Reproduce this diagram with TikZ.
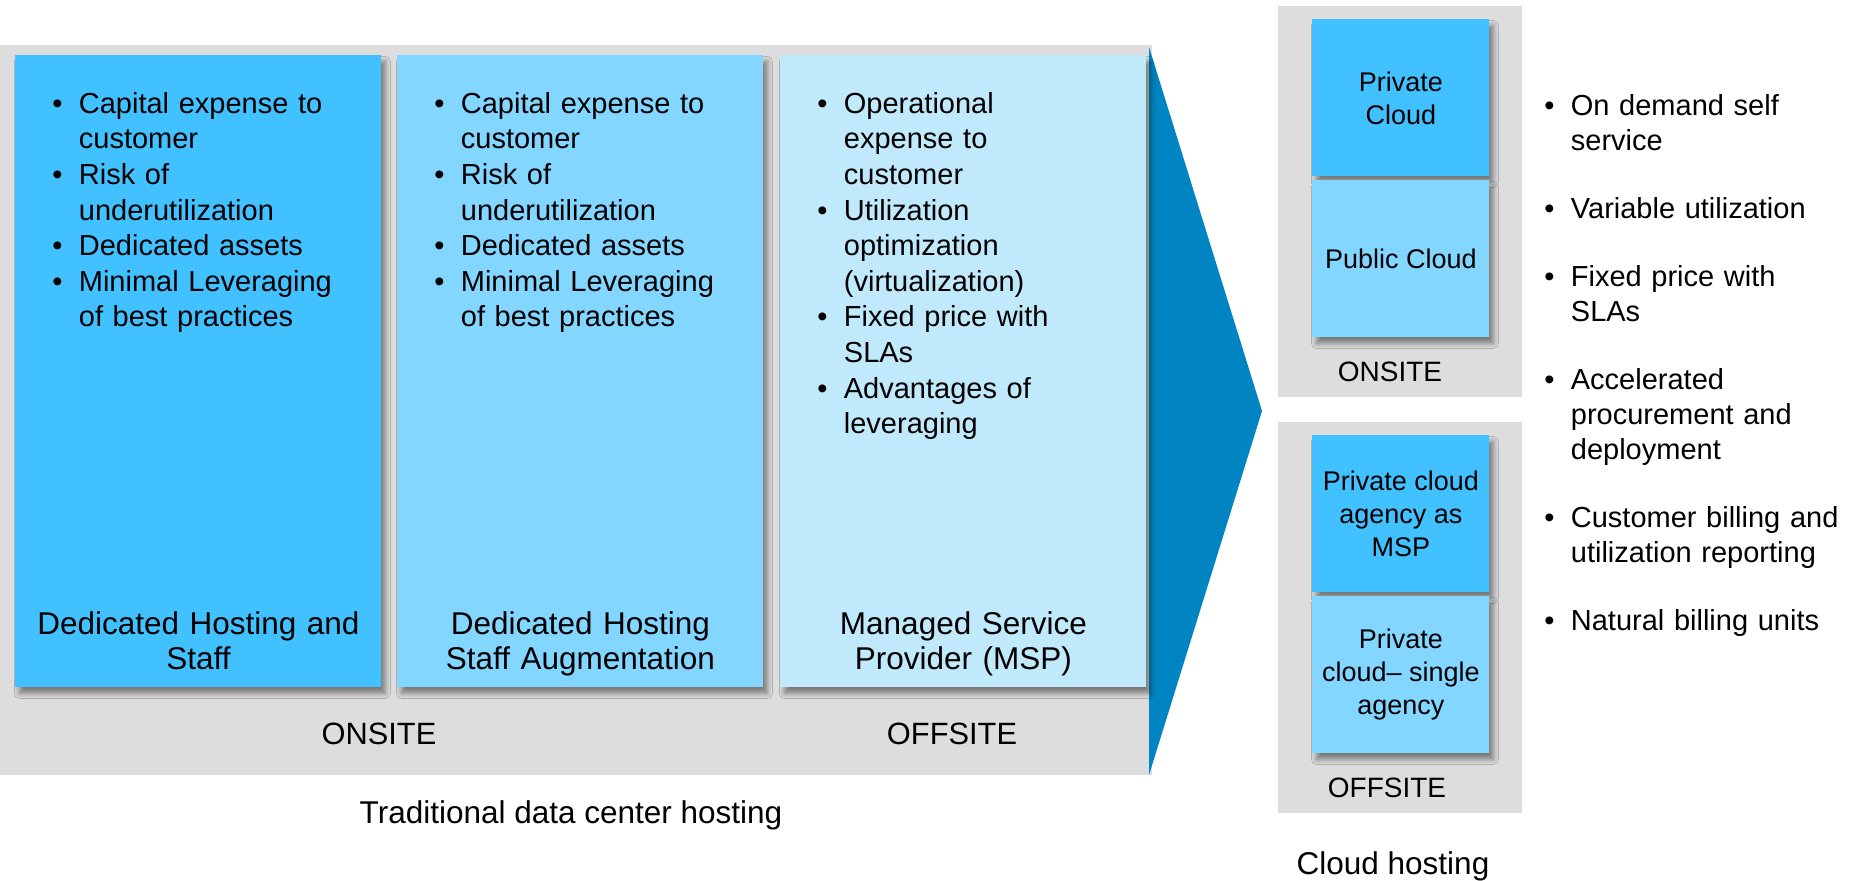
\documentclass[tikz,border=0pt]{standalone}
\usepackage{fontspec}
\setmainfont{Liberation Sans}
\usetikzlibrary{shadows.blur}
\definecolor{bA}{RGB}{65,193,255}
\definecolor{bB}{RGB}{130,214,255}
\definecolor{bC}{RGB}{192,233,252}
\definecolor{bgray}{RGB}{221,221,221}
\definecolor{tri}{RGB}{0,133,194}
\newcommand\bulfirst{\hangindent=13.25pt\hangafter=1\noindent\makebox[13.25pt][l]{\textbullet}\strut}
\newcommand\bul{\par\bulfirst}
\tikzset{
  bigbox/.style={draw=none, inner sep=0pt, anchor=north west, minimum width=183pt, minimum height=316pt,
     blur shadow={shadow xshift=2pt, shadow yshift=-3pt, shadow blur radius=2.5pt, shadow blur steps=6, shadow opacity=45}},
  smallbox/.style={draw=none, inner sep=0pt, anchor=north west, minimum width=88.5pt, minimum height=78.5pt, align=center,
     font=\fontsize{13.5}{16.5}\selectfont,
     blur shadow={shadow xshift=2pt, shadow yshift=-3pt, shadow blur radius=2.5pt, shadow blur steps=6, shadow opacity=45}},
  bullets/.style={inner sep=0pt, anchor=north west, text width=#1,
     font=\fontsize{14.5}{17.5}\selectfont},
  lbullets/.style={inner sep=0pt, anchor=north west, text width=#1,
     font=\fontsize{14.5}{17.8}\selectfont},
  titletxt/.style={inner sep=0pt, anchor=north, text width=183pt, align=center,
     font=\fontsize{15.75}{17.5}\selectfont},
  lbl/.style={inner sep=0pt, font=\fontsize{15.4}{17.5}\selectfont},
  slbl/.style={inner sep=0pt, font=\fontsize{14}{16}\selectfont},
  captxt/.style={inner sep=0pt, font=\fontsize{15.75}{17.5}\selectfont},
}
\begin{document}
\begin{tikzpicture}[x=0.5pt,y=-0.5pt]
\useasboundingbox (0,0) rectangle (1850,880);
% backgrounds
\fill[bgray] (0,45) rectangle (1152,775);
\fill[bgray] (1278,6) rectangle (1522,397);
\fill[bgray] (1278,422) rectangle (1522,813);
\fill[tri] (1149,47) -- (1262,411) -- (1149,775) -- cycle;
% big boxes
\node[bigbox, fill=bA] (b1) at (15,55) {};
\node[bigbox, fill=bB] (b2) at (397,55) {};
\node[bigbox, fill=bC] (b3) at (780,55) {};
% bullets
\node[lbullets=170pt] (l1) at (52,88) {%
\bulfirst Capital expense to\newline customer
\bul Risk of\newline underutilization
\bul Dedicated assets
\bul Minimal Leveraging\newline of best practices\par};
\node[lbullets=170pt] (l2) at (434,88) {%
\bulfirst Capital expense to\newline customer
\bul Risk of\newline underutilization
\bul Dedicated assets
\bul Minimal Leveraging\newline of best practices\par};
\node[lbullets=170pt] (l3) at (817,88) {%
\bulfirst Operational\newline expense to\newline customer
\bul Utilization\newline optimization\newline (virtualization)
\bul Fixed price with\newline SLAs
\bul Advantages of\newline leveraging\par};
% titles
\node[titletxt] (t1) at (b1.north |- 0,609.5) {\strut Dedicated Hosting and\\Staff};
\node[titletxt] (t2) at (b2.north |- 0,609.5) {\strut Dedicated Hosting\\Staff Augmentation};
\node[titletxt] (t3) at (b3.north |- 0,609.5) {\strut Managed Service\\Provider (MSP)};
% labels
\node[lbl] (on1) at (379,734) {ONSITE};
\node[lbl] (off1) at (952,734) {OFFSITE};
\node[captxt] (trad) at (571,815) {Traditional data center hosting};
% right small boxes
\node[smallbox, fill=bA] (pc) at (1312,19) {Private\\Cloud};
\node[smallbox, fill=bB] (pub) at (1312,180) {Public Cloud};
\node[smallbox, fill=bA] (pcm) at (1312,435) {Private cloud\\agency as\\MSP};
\node[smallbox, fill=bB] (pcs) at (1312,596) {Private\\cloud-- single\\agency};
\node[slbl] (on2) at (1390,372) {ONSITE};
\node[slbl] (off2) at (1387,788) {OFFSITE};
\node[captxt] (cloud) at (1393,866) {Cloud hosting};
% right bullets
\node[bullets=165pt] (l4) at (1544,90.5) {\parskip=16.5pt\relax
\bulfirst On demand self\newline service
\bul Variable utilization
\bul Fixed price with\newline SLAs
\bul Accelerated\newline procurement and\newline deployment
\bul Customer billing and\newline utilization reporting
\bul Natural billing units\par};
\end{tikzpicture}
\end{document}
